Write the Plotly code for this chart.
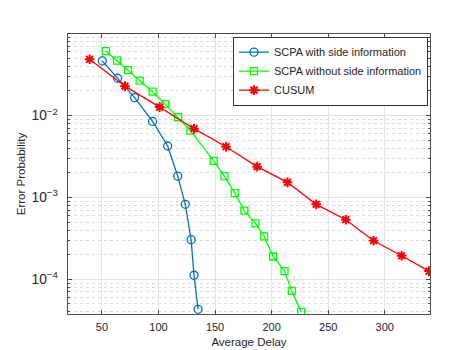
import plotly.graph_objects as go

# values
with_side_delay = [50.3, 63.9, 78.9, 94.8, 108.1, 117.0, 123.7, 128.8, 131.4, 135.0]
with_side_err = [0.0466, 0.0286, 0.0166, 0.00848, 0.00425, 0.00182, 8.24e-4, 3.05e-4, 1.12e-4, 4.3e-5]

without_side_delay = [53.5, 63.3, 73.0, 83.3, 94.8, 105.8, 117.3, 128.2, 148.8, 158.3,
                      167.4, 175.9, 185.7, 193.4, 201.3, 211.4, 217.8, 226.1]
without_side_err = [0.0614, 0.047, 0.036, 0.0268, 0.0196, 0.0138, 0.00955, 0.00655, 0.0028, 0.00182,
                    0.00113, 6.9e-4, 4.83e-4, 3.34e-4, 1.9e-4, 1.26e-4, 7.2e-5, 4.0e-5]

cusum_delay = [39.1, 70.4, 101.0, 131.4, 159.7, 187.2, 214.0, 239.4, 265.6, 290.1, 314.9, 339.1]
cusum_err = [0.0488, 0.0229, 0.0127, 0.00692, 0.00417, 0.00238, 0.00153, 8.24e-4, 5.35e-4,
             2.96e-4, 1.94e-4, 1.26e-4]

x_ticks = [50, 100, 150, 200, 250, 300]

font = "Liberation Sans, Arial, sans-serif"
axis_color = "#4d4d4d"
grid_color = "#e3e3e3"

fig = go.Figure()

fig.add_trace(go.Scatter(x=with_side_delay, y=with_side_err, mode='lines+markers',
                         name='SCPA with side information',
                         line=dict(color='#0072BD', width=1.3),
                         marker=dict(symbol='circle-open', size=8, color='#0072BD',
                                     line=dict(width=1.3))))

fig.add_trace(go.Scatter(x=without_side_delay, y=without_side_err, mode='lines+markers',
                         name='SCPA without side information',
                         line=dict(color='#00FF00', width=1.3),
                         marker=dict(symbol='square-open', size=7, color='#00FF00',
                                     line=dict(width=1.3))))

fig.add_trace(go.Scatter(x=cusum_delay, y=cusum_err, mode='lines+markers',
                         name='CUSUM',
                         line=dict(color='#FF0000', width=1.3),
                         marker=dict(symbol='asterisk-open', size=8, color='#FF0000',
                                     line=dict(width=2, color='#FF0000'))))

fig.update_layout(
    width=467, height=350,
    margin=dict(l=60, r=45, t=26, b=39),
    paper_bgcolor='white', plot_bgcolor='white',
    font=dict(family=font, size=11, color='#262626'),
    showlegend=True,
    legend=dict(x=0.9945, y=0.9905, xanchor='right', yanchor='top',
                bgcolor='white', bordercolor='#333333', borderwidth=1,
                font=dict(size=11, color='#262626'),
                itemwidth=30, tracegroupgap=0),
    xaxis=dict(title=dict(text='Average Delay', standoff=5, font=dict(size=11.5)),
               range=[20, 340], tickvals=x_ticks, ticklabelstandoff=3,
               showline=True, linecolor=axis_color, linewidth=1, mirror='ticks',
               ticks='inside', ticklen=4, tickcolor=axis_color,
               showgrid=True, gridcolor=grid_color, gridwidth=1, zeroline=False),
    yaxis=dict(title=dict(text='Error Probability', standoff=3, font=dict(size=11.5)),
               type='log', range=[-4.424, -1.003], dtick=1, exponentformat='power',
               ticklabelstandoff=7,
               showline=True, linecolor=axis_color, linewidth=1, mirror='ticks',
               ticks='inside', ticklen=4, tickcolor=axis_color,
               showgrid=True, gridcolor=grid_color, gridwidth=1, zeroline=False,
               minor=dict(dtick='D1', ticks='inside', ticklen=2, tickcolor=axis_color,
                          showgrid=True, gridcolor='#dcdcdc', griddash='dot', gridwidth=1)),
)

fig.write_html("out.html")
